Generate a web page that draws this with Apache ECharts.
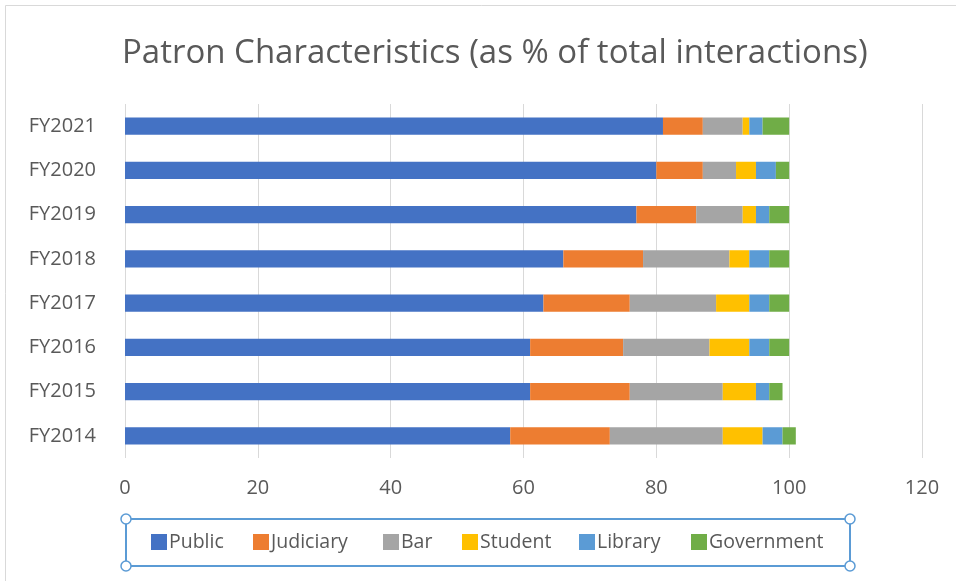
<!DOCTYPE html>
<html>
<head>
<meta charset="utf-8">
<script src="https://cdn.jsdelivr.net/npm/echarts@6/dist/echarts.min.js"></script>
<style>html,body{margin:0;padding:0;background:#fff;}#c{width:956px;height:581px;}</style>
</head>
<body>
<div id="c"></div>
<script>
const categories = ['FY2014','FY2015','FY2016','FY2017','FY2018','FY2019','FY2020','FY2021'];
const publicVals     = [58, 61, 61, 63, 66, 77, 80, 81];
const judiciaryVals  = [15, 15, 14, 13, 12,  9,  7,  6];
const barVals        = [17, 14, 13, 13, 13,  7,  5,  6];
const studentVals    = [ 6,  5,  6,  5,  3,  2,  3,  1];
const libraryVals    = [ 3,  2,  3,  3,  3,  2,  3,  2];
const governmentVals = [ 2,  2,  3,  3,  3,  3,  2,  4];
const xTicks = [0, 20, 40, 60, 80, 100, 120];

const FONT = 'Open Sans';
const seriesDefs = [
  ['Public', publicVals, '#4472C4'],
  ['Judiciary', judiciaryVals, '#ED7D31'],
  ['Bar', barVals, '#A5A5A5'],
  ['Student', studentVals, '#FFC000'],
  ['Library', libraryVals, '#5B9BD5'],
  ['Government', governmentVals, '#70AD47']
];
const legendLeft = [151, 253, 383, 462, 579, 691];

const chart = echarts.init(document.getElementById('c'));
chart.setOption({
  animation: false,
  backgroundColor: '#fff',
  title: {
    text: 'Patron Characteristics (as % of total interactions)',
    left: 117, top: 32,
    textStyle: { fontFamily: FONT, fontSize: 33, fontWeight: 'normal', color: '#595959' }
  },
  legend: seriesDefs.map((s, i) => ({
    left: legendLeft[i], top: 532, padding: 0,
    itemWidth: 16, itemHeight: 16, itemGap: 0,
    icon: 'rect',
    textStyle: { fontFamily: FONT, fontSize: 19.5, color: '#595959', padding: [0,0,0,-3] },
    data: [s[0]]
  })),
  grid: { left: 125, right: 34, top: 104, bottom: 123, containLabel: false },
  xAxis: {
    type: 'value', min: 0, max: 120, interval: 20,
    axisLine: { show: false }, axisTick: { show: false },
    splitLine: { lineStyle: { color: '#D9D9D9', width: 1 } },
    axisLabel: { fontFamily: FONT, fontSize: 20, color: '#595959', margin: 20,
      formatter: v => xTicks.includes(v) ? String(v) : '' }
  },
  yAxis: {
    type: 'category', data: categories,
    axisLine: { show: false }, axisTick: { show: false },
    axisLabel: { fontFamily: FONT, fontSize: 20, color: '#595959', margin: 29 }
  },
  series: seriesDefs.map(s => ({
    name: s[0], type: 'bar', stack: 'total', data: s[1],
    barWidth: '39%',
    itemStyle: { color: s[2] }
  })),
  graphic: [
    { type: 'rect', shape: { x: 5.5, y: 5.5, width: 960, height: 600 }, style: { fill: 'none', stroke: '#D9D9D9', lineWidth: 1 }, silent: true },
    { type: 'rect', shape: { x: 126, y: 519, width: 724, height: 47 }, style: { fill: 'none', stroke: '#5B9BD5', lineWidth: 2 }, silent: true },
    ...[[126,519],[850,519],[126,566],[850,566]].map(p => ({
      type: 'circle', shape: { cx: p[0], cy: p[1], r: 5 }, style: { fill: '#fff', stroke: '#5B9BD5', lineWidth: 1.5 }, silent: true
    }))
  ]
});
</script>
</body>
</html>
